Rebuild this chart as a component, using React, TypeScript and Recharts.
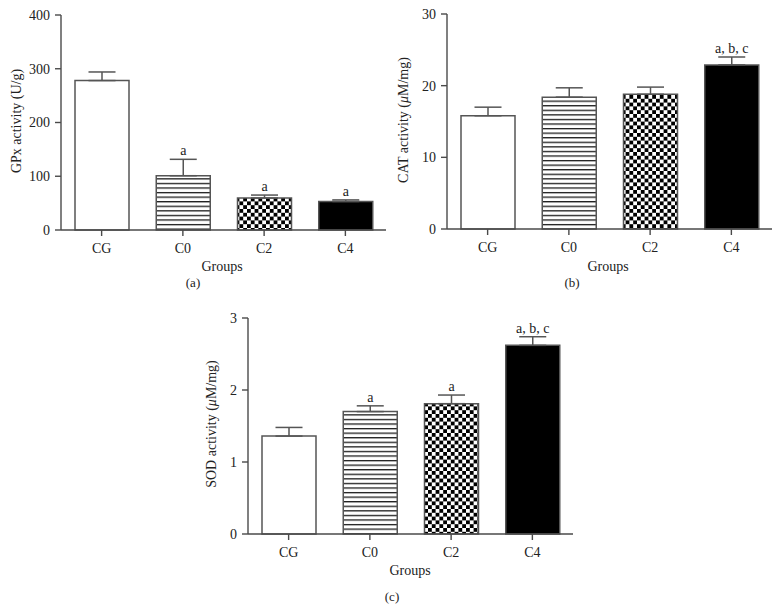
import React from 'react';
import { BarChart, Bar, XAxis, YAxis, ErrorBar, Cell, LabelList } from 'recharts';

const groups = ['CG', 'C0', 'C2', 'C4'];

const gpxMean = [278, 101, 59.5, 53];
const gpxErr = [16, 30.5, 5.5, 3];
const gpxSig = ['', 'a', 'a', 'a'];
const gpxTicks = [0, 100, 200, 300, 400];

const catMean = [15.8, 18.4, 18.8, 22.9];
const catErr = [1.2, 1.3, 1.0, 1.1];
const catSig = ['', '', '', 'a, b, c'];
const catTicks = [0, 10, 20, 30];

const sodMean = [1.36, 1.7, 1.81, 2.62];
const sodErr = [0.12, 0.08, 0.12, 0.12];
const sodSig = ['', 'a', 'a', 'a, b, c'];
const sodTicks = [0, 1, 2, 3];

const FONT = '"Liberation Serif", "Times New Roman", serif';
const TEXT = '#222';
const AXIS = '#4a4a4a';
const FILLS = ['#ffffff', 'url(#hstripes)', 'url(#checker)', '#000000'];

function build(means: number[], errs: number[], sigs: string[]) {
  return groups.map((g, i) => ({ group: g, value: means[i], err: [0, errs[i]], sig: sigs[i], e: errs[i] }));
}

function makeSigLabel(data: any[]) {
  return (props: any) => {
    const vb = props.viewBox || props;
    const x = vb.x ?? props.x;
    const y = vb.y ?? props.y;
    const w = vb.width ?? props.width;
    const h = vb.height ?? props.height;
    const idx = props.index;
    const d = data[idx];
    if (!d || !d.sig) return null;
    const top = y - (d.e / d.value) * h;
    return (
      <text x={x + w / 2} y={top - 4} textAnchor="middle" fontFamily={FONT} fontSize={14} fill={TEXT}>
        {d.sig}
      </text>
    );
  };
}

type PanelProps = {
  left: number; top: number; width: number; height: number;
  margin: { top: number; right: number; bottom: number; left: number };
  data: any[]; ticks: number[];
};

function Panel({ left, top, width, height, margin, data, ticks }: PanelProps) {
  return (
    <div style={{ position: 'absolute', left, top, width, height }}>
      <BarChart width={width} height={height} data={data} margin={margin}>
        <XAxis
          dataKey="group"
          height={30}
          tickSize={6}
          tickMargin={7}
          axisLine={{ stroke: AXIS, strokeWidth: 1.4 }}
          tickLine={{ stroke: AXIS, strokeWidth: 1.4 }}
          tick={{ fontFamily: FONT, fontSize: 14, fill: TEXT }}
        />
        <YAxis
          width={45}
          domain={[ticks[0], ticks[ticks.length - 1]]}
          ticks={ticks}
          tickSize={6}
          tickMargin={5}
          axisLine={{ stroke: AXIS, strokeWidth: 1.4 }}
          tickLine={{ stroke: AXIS, strokeWidth: 1.4 }}
          tick={{ fontFamily: FONT, fontSize: 14, fill: TEXT }}
        />
        <Bar dataKey="value" barSize={54} isAnimationActive={false} stroke="#555" strokeWidth={1.5}>
          {data.map((_, i) => (
            <Cell key={i} fill={FILLS[i]} />
          ))}
          <ErrorBar dataKey="err" width={13.5} stroke="#555" strokeWidth={1.5} direction="y" />
          <LabelList dataKey="sig" content={makeSigLabel(data)} />
        </Bar>
      </BarChart>
    </div>
  );
}

export default function App() {
  const dA = build(gpxMean, gpxErr, gpxSig);
  const dB = build(catMean, catErr, catSig);
  const dC = build(sodMean, sodErr, sodSig);
  const titleStyle = { fontFamily: FONT, fontSize: 14, fill: TEXT } as any;
  return (
    <div style={{ position: 'absolute', left: 0, top: 0, width: 780, height: 611, background: '#fff', overflow: 'hidden' }}>
      <svg width={0} height={0} style={{ position: 'absolute' }}>
        <defs>
          <pattern id="hstripes" patternUnits="userSpaceOnUse" width={8} height={4.57}>
            <rect x={0} y={0} width={8} height={4.57} fill="#fff" />
            <rect x={0} y={0} width={8} height={1.3} fill="#1a1a1a" />
          </pattern>
          <pattern id="checker" patternUnits="userSpaceOnUse" width={7.6} height={7.6}>
            <rect x={0} y={0} width={7.6} height={7.6} fill="#fff" />
            <rect x={0} y={0} width={3.8} height={3.8} fill="#000" />
            <rect x={3.8} y={3.8} width={3.8} height={3.8} fill="#000" />
          </pattern>
        </defs>
      </svg>
      <Panel left={0} top={0} width={390} height={300}
        margin={{ top: 15, right: 4, bottom: 40, left: 16 }} data={dA} ticks={gpxTicks} />
      <Panel left={390} top={0} width={390} height={300}
        margin={{ top: 14, right: 8, bottom: 41, left: 12 }} data={dB} ticks={catTicks} />
      <Panel left={200} top={300} width={390} height={311}
        margin={{ top: 18, right: 17, bottom: 47, left: 3 }} data={dC} ticks={sodTicks} />
      <svg width={780} height={611} style={{ position: 'absolute', left: 0, top: 0, pointerEvents: 'none' }}>
        <text transform="translate(20.5,121) rotate(-90)" textAnchor="middle" {...titleStyle}>GPx activity (U/g)</text>
        <text x={222} y={271} textAnchor="middle" {...titleStyle}>Groups</text>
        <text x={193} y={287} textAnchor="middle" {...titleStyle} fontSize={13}>(a)</text>

        <text transform="translate(408,120) rotate(-90)" textAnchor="middle" {...titleStyle}>
          CAT activity (<tspan fontStyle="italic">μ</tspan>M/mg)
        </text>
        <text x={608} y={271} textAnchor="middle" {...titleStyle}>Groups</text>
        <text x={572} y={287} textAnchor="middle" {...titleStyle} fontSize={13}>(b)</text>

        <text transform="translate(216,424) rotate(-90)" textAnchor="middle" {...titleStyle}>
          SOD activity (<tspan fontStyle="italic">μ</tspan>M/mg)
        </text>
        <text x={410} y={575} textAnchor="middle" {...titleStyle}>Groups</text>
        <text x={392} y={601} textAnchor="middle" {...titleStyle} fontSize={13}>(c)</text>
      </svg>
    </div>
  );
}
